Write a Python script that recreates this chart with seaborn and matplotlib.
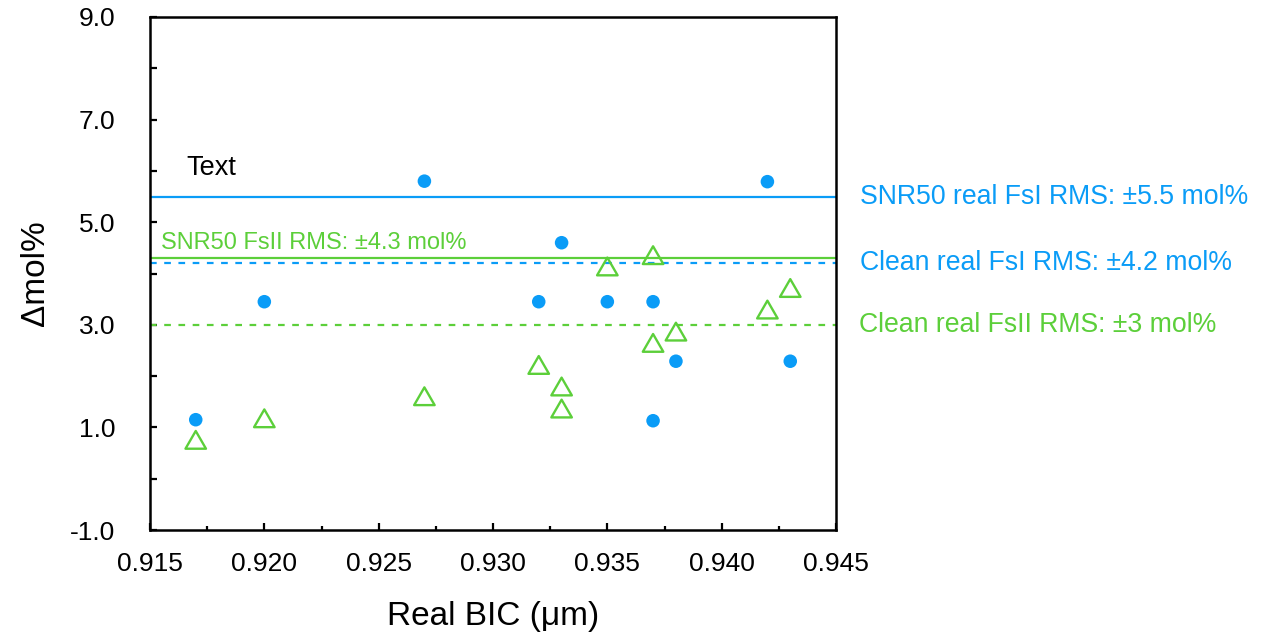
import matplotlib
matplotlib.use("Agg")
import matplotlib.pyplot as plt
import seaborn as sns
import pandas as pd
from matplotlib.path import Path
from matplotlib.ticker import MultipleLocator, FixedLocator, FormatStrFormatter

# ---- data ----
fs1_bic = [0.917, 0.920, 0.927, 0.932, 0.933, 0.935, 0.937, 0.937, 0.938, 0.942, 0.943]
fs1_dmol = [1.15, 3.45, 5.80, 3.45, 4.60, 3.45, 3.45, 1.13, 2.29, 5.79, 2.29]

fs2_bic = [0.917, 0.920, 0.927, 0.932, 0.933, 0.933, 0.935, 0.937, 0.937, 0.938, 0.942, 0.943]
fs2_dmol = [0.70, 1.12, 1.55, 2.16, 1.74, 1.31, 4.08, 4.30, 2.59, 2.81, 3.24, 3.66]

snr50_fs1_rms = 5.5
clean_fs1_rms = 4.2
snr50_fs2_rms = 4.3
clean_fs2_rms = 3.0

y_major_ticks = [-1.0, 1.0, 3.0, 5.0, 7.0, 9.0]

label_snr50_fs1 = "SNR50 real FsI RMS: \u00b15.5 mol%"
label_clean_fs1 = "Clean real FsI RMS: \u00b14.2 mol%"
label_clean_fs2 = "Clean real FsII RMS: \u00b13 mol%"
label_snr50_fs2 = "SNR50 FsII RMS: \u00b14.3 mol%"

BLUE = "#0a9cf7"
GREEN = "#5ccf3a"

sns.set_theme(style="white")
plt.rcParams["font.family"] = ["Liberation Sans", "DejaVu Sans"]
plt.rcParams["text.color"] = "black"
plt.rcParams["axes.labelcolor"] = "black"
plt.rcParams["xtick.color"] = "black"
plt.rcParams["ytick.color"] = "black"

df1 = pd.DataFrame({"bic": fs1_bic, "dmol": fs1_dmol})
df2 = pd.DataFrame({"bic": fs2_bic, "dmol": fs2_dmol})

fig = plt.figure(figsize=(12.65, 6.37), dpi=100)
ax = fig.add_axes([150 / 1265, 107 / 637, 686 / 1265, 513 / 637])

tri = Path([(0, 0.577), (-0.5, -0.289), (0.5, -0.289), (0, 0.577)], closed=True)

# reference lines
ax.axhline(snr50_fs1_rms, color=BLUE, lw=1.6, zorder=1)
ax.axhline(snr50_fs2_rms, color=GREEN, lw=1.6, zorder=1)
ax.axhline(clean_fs1_rms, color=BLUE, lw=1.6, ls=(0, (3, 3.4)), zorder=1)
ax.axhline(clean_fs2_rms, color=GREEN, lw=1.6, ls=(0, (3, 3.4)), zorder=1)

sns.scatterplot(data=df1, x="bic", y="dmol", ax=ax, color=BLUE, marker="o",
                s=95, edgecolor="none", linewidth=0, zorder=3)
sns.scatterplot(data=df2, x="bic", y="dmol", ax=ax, color=GREEN, marker=tri,
                s=290, facecolor="none", edgecolor=GREEN, linewidth=1.7, zorder=3)

ax.set_xlim(0.915, 0.945)
ax.set_ylim(-1.0, 9.0)
ax.xaxis.set_major_locator(MultipleLocator(0.005))
ax.xaxis.set_minor_locator(MultipleLocator(0.0025))
ax.yaxis.set_major_locator(FixedLocator(y_major_ticks))
ax.yaxis.set_minor_locator(MultipleLocator(1.0))
ax.xaxis.set_major_formatter(FormatStrFormatter("%.3f"))
ax.yaxis.set_major_formatter(FormatStrFormatter("%.1f"))

ax.tick_params(axis="x", which="major", direction="in", length=5, width=1.6,
               labelsize=19, pad=16, bottom=True, top=False, color="black",
               labelcolor="black")
ax.tick_params(axis="x", which="minor", direction="in", length=3, width=1.6,
               bottom=True, top=False, color="black")
ax.tick_params(axis="y", which="major", direction="in", length=5, width=1.6,
               labelsize=19, pad=25, left=True, right=False, color="black",
               labelcolor="black")
ax.tick_params(axis="y", which="minor", direction="in", length=5, width=1.6,
               left=True, right=False, color="black")

for sp in ax.spines.values():
    sp.set_color("black")
    sp.set_linewidth(1.8)

ax.set_xlabel("Real BIC (\u03bcm)", fontsize=24, labelpad=18, color="black")
ax.set_ylabel("\u0394mol%", fontsize=24, labelpad=14, color="black")

# text annotations
ax.text(0.9166, 6.06, "Text", fontsize=19.5, color="black", va="center", ha="left")
ax.text(0.91547, 4.6, label_snr50_fs2, fontsize=17, color=GREEN, va="center", ha="left")

trans = ax.get_yaxis_transform()
ax.text(1.0 + 24 / 686, snr50_fs1_rms, label_snr50_fs1, transform=trans,
        fontsize=19.2, color=BLUE, va="center", ha="left", clip_on=False)
ax.text(1.0 + 24 / 686, clean_fs1_rms, label_clean_fs1, transform=trans,
        fontsize=19.2, color=BLUE, va="center", ha="left", clip_on=False)
ax.text(1.0 + 23 / 686, clean_fs2_rms, label_clean_fs2, transform=trans,
        fontsize=19.2, color=GREEN, va="center", ha="left", clip_on=False)

fig.savefig("out.png", dpi=100)
